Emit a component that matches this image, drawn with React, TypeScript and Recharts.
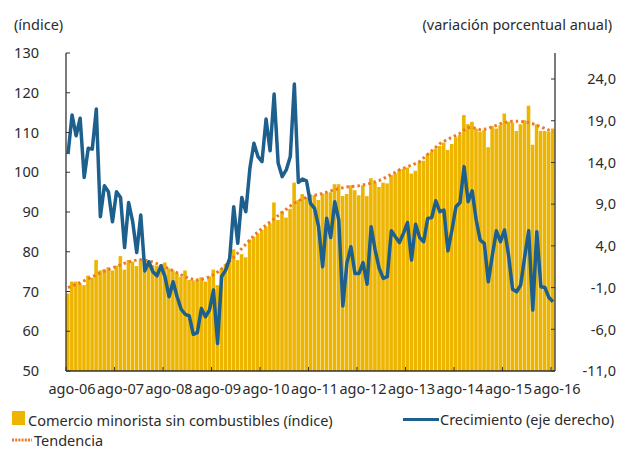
import React from 'react';
import { ComposedChart, Bar, Line, XAxis, YAxis } from 'recharts';

const MONTHS = ['ene', 'feb', 'mar', 'abr', 'may', 'jun', 'jul', 'ago', 'sep', 'oct', 'nov', 'dic'];

// Monthly categories: ago-06 .. ago-16 (121 months)
const categories: string[] = Array.from({ length: 121 }, (_, i) => {
  const m = (7 + i) % 12;
  const y = 2006 + Math.floor((7 + i) / 12);
  return `${MONTHS[m]}-${String(y % 100).padStart(2, '0')}`;
});

const xTickLabels = ['ago-06', 'ago-07', 'ago-08', 'ago-09', 'ago-10', 'ago-11', 'ago-12', 'ago-13', 'ago-14', 'ago-15', 'ago-16'];
const leftTicks = [50, 60, 70, 80, 90, 100, 110, 120, 130];
const rightTicks = [-11, -6, -1, 4, 9, 14, 19, 24];

// Comercio minorista sin combustibles (índice)
const indexValues = [
  69.5, 72.5, 72.5, 72.0, 71.6, 74.0, 73.5, 77.9, 75.3, 75.6,
  76.1, 75.3, 76.5, 78.9, 75.5, 77.9, 77.5, 76.4, 78.1, 77.5,
  76.9, 76.7, 76.5, 76.7, 77.3, 75.8, 75.3, 74.6, 73.7, 75.3,
  72.9, 72.8, 73.0, 73.6, 72.5, 73.8, 75.5, 71.6, 75.8, 76.8,
  77.9, 80.6, 77.9, 79.4, 78.6, 83.1, 83.8, 84.6, 85.5, 86.3,
  87.1, 92.4, 88.0, 90.2, 88.6, 90.8, 97.4, 93.0, 94.5, 93.7,
  94.4, 94.2, 93.0, 94.6, 94.8, 95.0, 97.0, 97.0, 94.0, 94.5,
  96.7, 95.5, 94.2, 96.7, 94.0, 98.5, 97.4, 96.3, 97.4, 97.2,
  99.3, 99.7, 100.7, 100.9, 101.2, 99.7, 100.4, 102.6, 102.9, 104.6,
  105.2, 106.0, 106.6, 107.5, 105.6, 107.1, 108.8, 109.4, 114.4, 112.1,
  112.7, 111.0, 110.2, 110.6, 106.3, 111.6, 111.0, 111.8, 114.8, 112.7,
  112.5, 110.4, 112.1, 113.1, 116.7, 106.9, 112.1, 110.4, 110.4, 110.2,
  111.0,
];

// Tendencia
const trendValues = [
  71.0, 71.4, 71.8, 72.2, 72.7, 73.2, 73.7, 74.2, 74.7, 75.1,
  75.5, 75.9, 76.3, 76.7, 77.1, 77.4, 77.7, 77.9, 78.0, 77.9,
  77.7, 77.4, 77.0, 76.6, 76.2, 75.7, 75.2, 74.7, 74.2, 73.7,
  73.3, 73.0, 72.9, 73.0, 73.3, 73.7, 74.2, 74.9, 75.7, 76.6,
  77.6, 78.6, 79.7, 80.8, 81.9, 83.0, 84.1, 85.0, 85.9, 86.7,
  87.5, 88.3, 89.1, 89.9, 90.7, 91.5, 92.2, 92.8, 93.3, 93.7,
  94.0, 94.2, 94.4, 94.7, 95.0, 95.3, 95.6, 95.9, 96.1, 96.3,
  96.4, 96.5, 96.6, 96.8, 97.0, 97.3, 97.6, 97.9, 98.4, 98.9,
  99.5, 100.0, 100.6, 101.0, 101.4, 101.8, 102.2, 102.7, 103.6, 104.5,
  105.4, 106.3, 107.2, 107.8, 108.3, 108.8, 109.3, 109.8, 110.6, 111.2,
  111.3, 111.0, 110.7, 110.8, 111.1, 111.4, 111.8, 112.2, 112.5, 112.7,
  112.8, 112.8, 112.8, 112.7, 112.5, 112.2, 111.8, 111.4, 111.0, 110.6,
  110.3,
];

// Crecimiento (eje derecho), variación porcentual anual
const growthValues = [
  15.0, 19.7, 17.2, 19.3, 12.2, 15.7, 15.6, 20.4, 7.5, 11.2,
  10.5, 6.9, 10.5, 9.8, 3.8, 9.2, 6.9, 3.2, 7.7, 1.0,
  2.1, 0.9, 0.4, 1.6, 0.3, -2.1, -0.3, -2.1, -3.6, -4.2,
  -4.4, -6.6, -6.4, -3.5, -4.5, -3.7, -1.3, -7.7, 0.3, 1.1,
  2.5, 8.7, 4.3, 9.8, 8.1, 13.3, 16.3, 14.7, 14.1, 19.2,
  15.4, 22.2, 13.9, 12.3, 13.1, 14.7, 23.4, 11.6, 12.0, 11.8,
  9.1, 8.5, 6.3, 1.5, 7.3, 5.0, 9.3, 7.1, -3.2, 1.9,
  3.9, 0.7, 0.7, 2.0, -0.6, 6.3, 3.5, 1.3, 0.1, 0.3,
  5.8, 5.1, 4.4, 5.5, 6.8, 2.3, 6.6, 5.0, 4.5, 7.3,
  7.4, 9.4, 8.1, 8.3, 3.4, 5.9, 8.7, 9.2, 13.5, 9.3,
  10.6, 7.1, 4.7, 4.3, -0.3, 2.9, 5.8, 4.5, 5.9, 2.9,
  -1.2, -1.5, -0.7, 2.7, 5.8, -3.7, 5.7, -0.9, -1.0, -2.2,
  -2.7,
];

const data = categories.map((m, i) => ({
  m,
  indice: indexValues[i],
  tendencia: trendValues[i],
  crecimiento: growthValues[i],
}));

const FONT = '"Noto Sans", "Open Sans", sans-serif';
const TEXT = '#2b2b2b';
const AXIS = '#333333';
const BAR = '#EDB500';
const BLUE = '#1D5F8D';
const ORANGE = '#EA7A28';

const XTick = (props: any) => {
  const { x, y, payload } = props;
  return (
    <g>
      <line x1={x - 2} x2={x - 2} y1={y} y2={y - 4} stroke={AXIS} strokeWidth={1} />
      <text x={x + 4} y={y + 23} textAnchor="middle" fill={TEXT} fontSize={14.5} fontFamily={FONT}>
        {payload.value}
      </text>
    </g>
  );
};

const LeftTick = (props: any) => {
  const { x, y, payload } = props;
  return (
    <g>
      <line x1={x} x2={x + 4} y1={y} y2={y} stroke={AXIS} strokeWidth={1} />
      <text x={x - 27} y={y} dy="0.36em" textAnchor="end" fill={TEXT} fontSize={14.5} fontFamily={FONT}>
        {payload.value}
      </text>
    </g>
  );
};

const RightTick = (props: any) => {
  const { x, y, payload } = props;
  return (
    <g>
      <line x1={x - 4} x2={x} y1={y} y2={y} stroke={AXIS} strokeWidth={1} />
      <text x={x + 61} y={y} dy="0.36em" textAnchor="end" fill={TEXT} fontSize={14.5} fontFamily={FONT}>
        {Number(payload.value).toFixed(1).replace('.', ',')}
      </text>
    </g>
  );
};

export default function App() {
  const textStyle: React.CSSProperties = {
    position: 'absolute',
    fontFamily: FONT,
    fontSize: 14.5,
    color: TEXT,
    whiteSpace: 'nowrap',
    lineHeight: '18px',
  };
  return (
    <div style={{ position: 'absolute', left: 0, top: 0, width: 618, height: 449, background: '#fff' }}>
      <div style={{ ...textStyle, left: 14, top: 15 }}>(índice)</div>
      <div style={{ ...textStyle, right: 6, top: 15 }}>(variación porcentual anual)</div>
      <ComposedChart
        width={618}
        height={449}
        data={data}
        margin={{ top: 53, right: 0, bottom: 48, left: 0 }}
        barCategoryGap={0}
        barGap={0}
      >
        <XAxis
          dataKey="m"
          ticks={xTickLabels}
          interval={0}
          tick={<XTick />}
          tickLine={false}
          tickSize={0}
          tickMargin={0}
          height={30}
          axisLine={{ stroke: AXIS, strokeWidth: 1.3 }}
        />
        <YAxis
          yAxisId="left"
          orientation="left"
          domain={[50, 130]}
          ticks={leftTicks}
          width={66}
          tick={<LeftTick />}
          tickLine={false}
          tickSize={0}
          tickMargin={0}
          axisLine={{ stroke: AXIS, strokeWidth: 1.3 }}
          allowDataOverflow
        />
        <YAxis
          yAxisId="right"
          orientation="right"
          domain={[-11, 27.12]}
          ticks={rightTicks}
          width={63}
          tick={<RightTick />}
          tickLine={false}
          tickSize={0}
          tickMargin={0}
          axisLine={{ stroke: AXIS, strokeWidth: 1.3 }}
          allowDataOverflow
        />
        <Bar yAxisId="left" dataKey="indice" fill={BAR} barSize={3.6} isAnimationActive={false} />
        <Line
          yAxisId="left"
          dataKey="tendencia"
          stroke={ORANGE}
          strokeWidth={3}
          strokeDasharray="2.5 3"
          dot={false}
          activeDot={false}
          type="linear"
          isAnimationActive={false}
        />
        <Line
          yAxisId="right"
          dataKey="crecimiento"
          stroke={BLUE}
          strokeWidth={3.5}
          strokeLinejoin="round"
          dot={false}
          activeDot={false}
          type="linear"
          isAnimationActive={false}
        />
      </ComposedChart>
      <div style={{ position: 'absolute', left: 12, top: 411, width: 13, height: 14, background: BAR }} />
      <div style={{ ...textStyle, left: 28, top: 411 }}>Comercio minorista sin combustibles (índice)</div>
      <div style={{ position: 'absolute', left: 403, top: 418, width: 36, height: 3, background: BLUE }} />
      <div style={{ ...textStyle, left: 440, top: 410 }}>Crecimiento (eje derecho)</div>
      <svg style={{ position: 'absolute', left: 12, top: 436 }} width={20} height={8}>
        <line x1={0} x2={20} y1={4} y2={4} stroke={ORANGE} strokeWidth={3} strokeDasharray="2 1.2" />
      </svg>
      <div style={{ ...textStyle, left: 34, top: 431 }}>Tendencia</div>
    </div>
  );
}
